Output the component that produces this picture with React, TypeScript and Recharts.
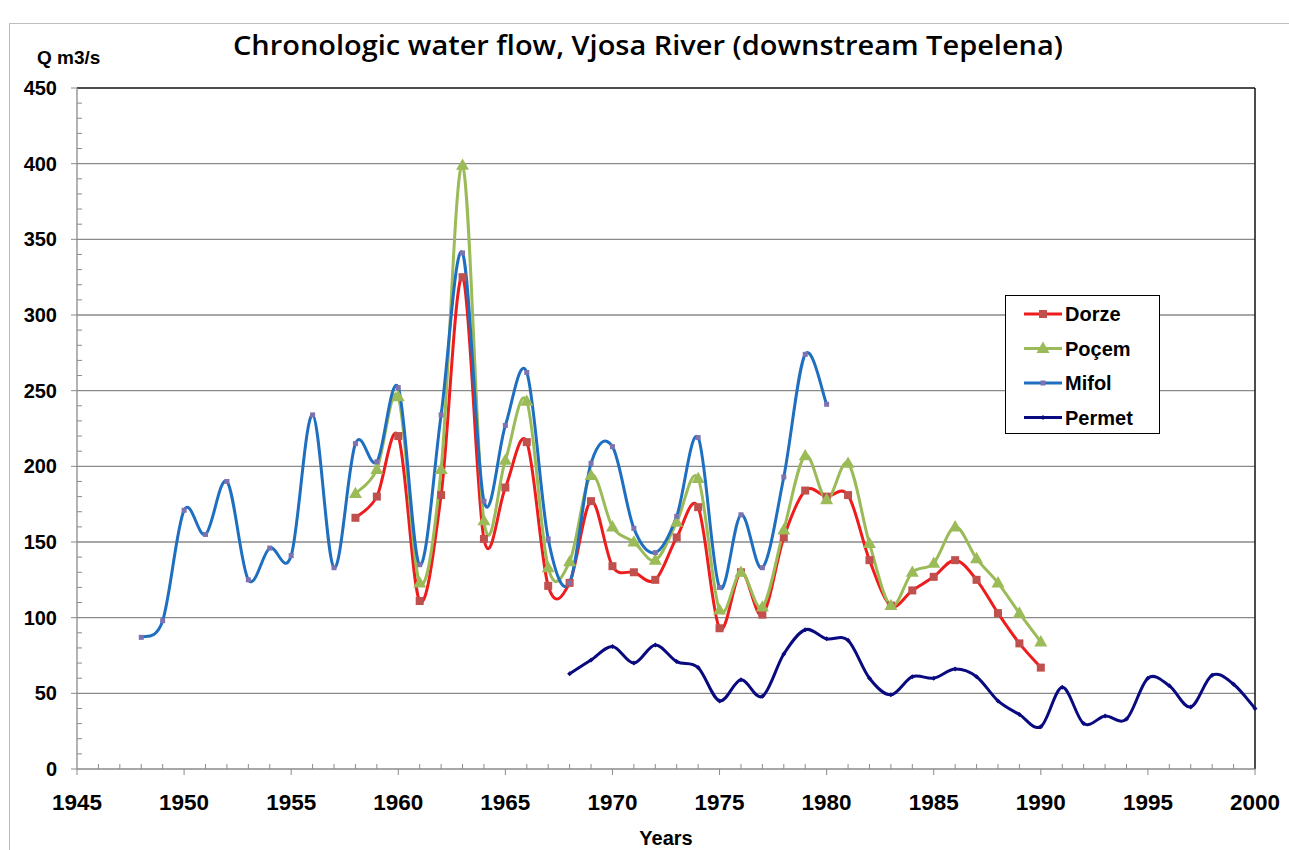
import React from 'react';
import { LineChart, Line, XAxis, YAxis, ReferenceLine } from 'recharts';

// years on the horizontal axis
const years = [
  1948, 1949, 1950, 1951, 1952, 1953, 1954, 1955, 1956, 1957, 1958, 1959, 1960, 1961, 1962, 1963, 1964,
  1965, 1966, 1967, 1968, 1969, 1970, 1971, 1972, 1973, 1974, 1975, 1976, 1977, 1978, 1979, 1980, 1981,
  1982, 1983, 1984, 1985, 1986, 1987, 1988, 1989, 1990, 1991, 1992, 1993, 1994, 1995, 1996, 1997, 1998,
  1999, 2000,
];

// Q m3/s per station, each starting at its own first year
const dorzeStart = 1958;
const dorzeFlow = [
  166, 180, 220, 111, 181, 325, 152, 186, 216, 121, 123, 177, 134, 130, 125, 153, 173, 93, 130, 102, 153,
  184, 180, 181, 138, 108, 118, 127, 138, 125, 103, 83, 67,
];

const pocemStart = 1958;
const pocemFlow = [
  182, 198, 246, 123, 198, 399, 164, 204, 243, 133, 137, 194, 160, 150, 138, 163, 192, 105, 130, 107, 158,
  207, 178, 202, 149, 108, 130, 136, 160, 139, 123, 103, 84,
];

const mifolStart = 1948;
const mifolFlow = [
  87, 98, 171, 155, 190, 125, 146, 141, 234, 133, 215, 203, 252, 135, 234, 341, 177, 227, 262, 152, 123,
  202, 213, 159, 143, 167, 219, 120, 168, 133, 193, 274, 241,
];

const permetStart = 1968;
const permetFlow = [
  63, 72, 81, 70, 82, 71, 67, 45, 59, 48, 76, 92, 86, 85, 60, 49, 61, 60, 66, 61, 45, 36, 28, 54, 30, 35,
  33, 60, 55, 41, 62, 56, 40,
];

const xTickLabels = [1945, 1950, 1955, 1960, 1965, 1970, 1975, 1980, 1985, 1990, 1995, 2000];
const yTickLabels = [0, 50, 100, 150, 200, 250, 300, 350, 400, 450];

const toPoints = (start: number, values: number[]) => {
  const first = years.indexOf(start);
  return values.map((v, i) => ({ year: years[first + i], flow: v }));
};

const dorzeData = toPoints(dorzeStart, dorzeFlow);
const pocemData = toPoints(pocemStart, pocemFlow);
const mifolData = toPoints(mifolStart, mifolFlow);
const permetData = toPoints(permetStart, permetFlow);

// minor ticks every year / every 10 units
const xTicks = Array.from({ length: 56 }, (_, i) => 1945 + i);
const yTicks = Array.from({ length: 46 }, (_, i) => i * 10);

const RED = '#EE1C1C';
const RED_MARK = '#C0504D';
const GREEN = '#9BBB59';
const BLUE = '#1F6FC0';
const BLUE_MARK = '#7F72B0';
const NAVY = '#0A0A80';
const GRID = '#8A8A8A';
const FONT = "'Liberation Sans', Arial, sans-serif";

// Excel-like smoothed line (Catmull-Rom through the points)
const excelSmooth = (context: any) => {
  let pts: number[][] = [];
  return {
    areaStart() {},
    areaEnd() {},
    lineStart() {
      pts = [];
    },
    point(x: number, y: number) {
      pts.push([+x, +y]);
    },
    lineEnd() {
      if (!pts.length) return;
      context.moveTo(pts[0][0], pts[0][1]);
      for (let i = 0; i < pts.length - 1; i++) {
        const p0 = pts[i - 1] || pts[i];
        const p1 = pts[i];
        const p2 = pts[i + 1];
        const p3 = pts[i + 2] || p2;
        context.bezierCurveTo(
          p1[0] + (p2[0] - p0[0]) / 6,
          p1[1] + (p2[1] - p0[1]) / 6,
          p2[0] - (p3[0] - p1[0]) / 6,
          p2[1] - (p3[1] - p1[1]) / 6,
          p2[0],
          p2[1]
        );
      }
    },
  };
};

const square = (size: number, fill: string) => (p: any) => {
  if (p.cx == null || p.cy == null) return <g key={p.index} />;
  return <rect key={p.index} x={p.cx - size / 2} y={p.cy - size / 2} width={size} height={size} fill={fill} />;
};

const triangle = (size: number, fill: string) => (p: any) => {
  if (p.cx == null || p.cy == null) return <g key={p.index} />;
  const h = size * 0.87;
  const d = `M${p.cx},${p.cy - h * 0.6} L${p.cx + size / 2},${p.cy + h * 0.4} L${p.cx - size / 2},${p.cy + h * 0.4} Z`;
  return <path key={p.index} d={d} fill={fill} />;
};

const diamond = (size: number, fill: string) => (p: any) => {
  if (p.cx == null || p.cy == null) return <g key={p.index} />;
  const r = size / 2;
  const d = `M${p.cx},${p.cy - r} L${p.cx + r},${p.cy} L${p.cx},${p.cy + r} L${p.cx - r},${p.cy} Z`;
  return <path key={p.index} d={d} fill={fill} />;
};

const Y_TICK = 5;
const Y_MARGIN = 15;
const X_TICK = 6;
const X_MARGIN = 10;

const YTick = (p: any) => {
  const v = p.payload.value;
  const ax = p.x + Y_TICK + Y_MARGIN;
  const major = yTickLabels.includes(v);
  return (
    <g>
      {major ? (
        <line x1={ax - 6} x2={ax} y1={p.y} y2={p.y} stroke={GRID} />
      ) : (
        <line x1={ax} x2={ax + 5} y1={p.y} y2={p.y} stroke={GRID} />
      )}
      {major && (
        <text x={p.x} y={p.y + 7} textAnchor="end" fontFamily={FONT} fontWeight="bold" fontSize={20} fill="#000">
          {v}
        </text>
      )}
    </g>
  );
};

const XTick = (p: any) => {
  const v = p.payload.value;
  const ay = p.y - X_TICK - X_MARGIN;
  const major = xTickLabels.includes(v);
  return (
    <g>
      {major ? (
        <line x1={p.x} x2={p.x} y1={ay} y2={ay + 6} stroke={GRID} />
      ) : (
        <line x1={p.x} x2={p.x} y1={ay - 5} y2={ay} stroke={GRID} />
      )}
      {major && (
        <text
          x={p.x}
          y={ay + 41}
          textAnchor="middle"
          fontFamily={FONT}
          fontWeight="bold"
          fontSize={22}
          textLength={50}
          lengthAdjust="spacingAndGlyphs"
          fill="#000"
        >
          {v}
        </text>
      )}
    </g>
  );
};

const legendItems = [
  { name: 'Dorze', color: RED, mark: 'square', markColor: RED_MARK, size: 8 },
  { name: 'Poçem', color: GREEN, mark: 'triangle', markColor: GREEN, size: 13 },
  { name: 'Mifol', color: BLUE, mark: 'square', markColor: BLUE_MARK, size: 5 },
  { name: 'Permet', color: NAVY, mark: 'diamond', markColor: NAVY, size: 5 },
];

const App = () => {
  return (
    <div style={{ position: 'absolute', left: 0, top: 0, width: 1289, height: 850, overflow: 'hidden', background: '#fff' }}>
      <div
        style={{
          position: 'absolute',
          left: 9,
          top: 23,
          width: 1300,
          height: 900,
          border: '1px solid #BDBDBD',
        }}
      />
      <div style={{ position: 'absolute', left: 0, top: 0 }}>
        <LineChart width={1289} height={850} margin={{ top: 88, right: 34, bottom: 51, left: 17 }}>
          <XAxis
            dataKey="year"
            type="number"
            domain={[1945, 2000]}
            ticks={xTicks}
            interval={0}
            height={30}
            tickSize={X_TICK}
            tickMargin={X_MARGIN}
            tickLine={false}
            tick={<XTick />}
            axisLine={{ stroke: GRID, strokeWidth: 1.3 }}
            allowDuplicatedCategory={false}
          />
          <YAxis
            type="number"
            domain={[0, 450]}
            ticks={yTicks}
            interval={0}
            width={60}
            tickSize={Y_TICK}
            tickMargin={Y_MARGIN}
            tickLine={false}
            tick={<YTick />}
            axisLine={{ stroke: GRID, strokeWidth: 1.3 }}
          />
          {yTickLabels
            .filter((v) => v > 0 && v < 450)
            .map((v) => (
              <ReferenceLine key={v} y={v} stroke={GRID} strokeWidth={1.3} />
            ))}
          <ReferenceLine y={450} stroke="#111" strokeWidth={1.5} />
          <ReferenceLine x={2000} stroke="#111" strokeWidth={1.5} />
          <Line
            data={dorzeData}
            dataKey="flow"
            name="Dorze"
            type={excelSmooth as any}
            stroke={RED}
            strokeWidth={3}
            dot={square(8, RED_MARK)}
            activeDot={false}
            isAnimationActive={false}
          />
          <Line
            data={pocemData}
            dataKey="flow"
            name="Poçem"
            type={excelSmooth as any}
            stroke={GREEN}
            strokeWidth={3}
            dot={triangle(13, GREEN)}
            activeDot={false}
            isAnimationActive={false}
          />
          <Line
            data={mifolData}
            dataKey="flow"
            name="Mifol"
            type={excelSmooth as any}
            stroke={BLUE}
            strokeWidth={3}
            dot={square(5, BLUE_MARK)}
            activeDot={false}
            isAnimationActive={false}
          />
          <Line
            data={permetData}
            dataKey="flow"
            name="Permet"
            type={excelSmooth as any}
            stroke={NAVY}
            strokeWidth={3}
            dot={diamond(5, NAVY)}
            activeDot={false}
            isAnimationActive={false}
          />
        </LineChart>
      </div>
      <svg width={1289} height={850} style={{ position: 'absolute', left: 0, top: 0, pointerEvents: 'none' }}>
        <text
          x={648}
          y={55}
          textAnchor="middle"
          fontFamily="'Open Sans', sans-serif"
          fontWeight={600}
          fontSize={27}
          textLength={830}
          lengthAdjust="spacingAndGlyphs"
          fill="#000"
        >
          Chronologic water flow, Vjosa River (downstream Tepelena)
        </text>
        <text x={37} y={64} fontFamily={FONT} fontWeight="bold" fontSize={19} fill="#000">
          Q m3/s
        </text>
        <text x={666} y={845} textAnchor="middle" fontFamily={FONT} fontWeight="bold" fontSize={20} fill="#000">
          Years
        </text>
        <rect x={1005.5} y={295.5} width={154} height={138} fill="#fff" stroke="#000" strokeWidth={1} />
        {legendItems.map((it, i) => {
          const cy = 314 + i * 34.5;
          const cx = 1043;
          let mark;
          if (it.mark === 'square') mark = <rect x={cx - it.size / 2} y={cy - it.size / 2} width={it.size} height={it.size} fill={it.markColor} />;
          else if (it.mark === 'triangle') mark = <path d={`M${cx},${cy - 7} L${cx + 6.5},${cy + 4.5} L${cx - 6.5},${cy + 4.5} Z`} fill={it.markColor} />;
          else mark = <path d={`M${cx},${cy - 2.5} L${cx + 2.5},${cy} L${cx},${cy + 2.5} L${cx - 2.5},${cy} Z`} fill={it.markColor} />;
          return (
            <g key={it.name}>
              <line x1={1024} x2={1062} y1={cy} y2={cy} stroke={it.color} strokeWidth={3} />
              {mark}
              <text x={1065} y={cy + 7} fontFamily={FONT} fontWeight="bold" fontSize={20} fill="#000">
                {it.name}
              </text>
            </g>
          );
        })}
      </svg>
    </div>
  );
};

export default App;
